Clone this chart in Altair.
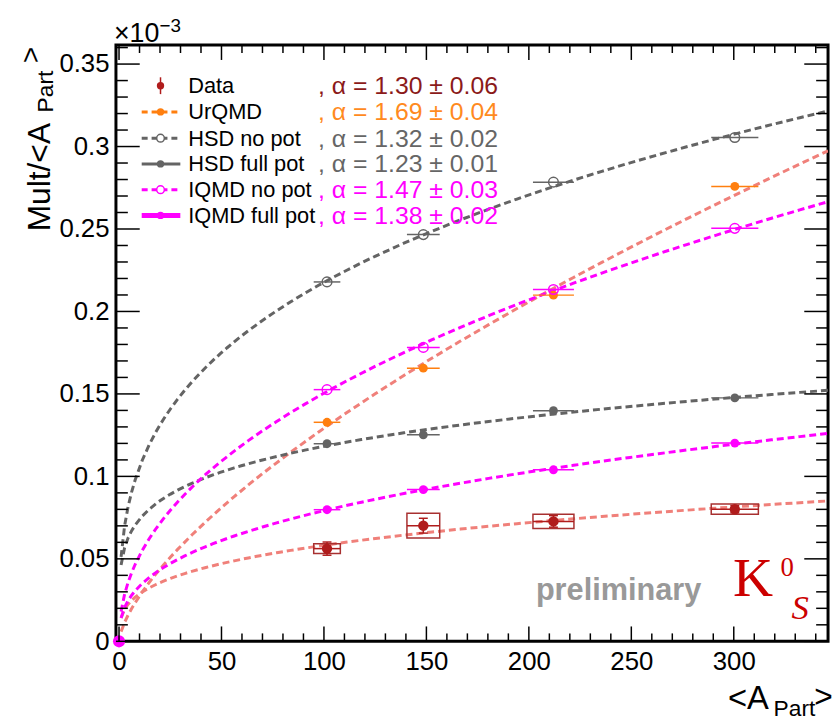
import altair as alt
import pandas as pd

# ---------------- data ----------------
A_PART = [101.5, 148.5, 212.0, 300.5]
A_ERR = [6.5, 8.0, 10.0, 11.5]

DATA_Y = [0.0562, 0.0701, 0.0727, 0.0801]
DATA_STAT = [0.0040, 0.0045, 0.0035, 0.0022]
DATA_SYS = [0.0030, 0.0075, 0.0043, 0.0031]

URQMD_Y = [0.1328, 0.1656, 0.2099, 0.2758]
HSD_NOPOT_Y = [0.2179, 0.2466, 0.2784, 0.3055]
HSD_FULL_Y = [0.1198, 0.1252, 0.1398, 0.1476]
IQMD_NOPOT_Y = [0.1526, 0.1782, 0.2133, 0.2504]
IQMD_FULL_Y = [0.0798, 0.0920, 0.1040, 0.1202]

ORIGIN_X = [0.0]
ORIGIN_Y = [0.0]

SERIES = ["Data", "UrQMD", "HSD no pot", "HSD full pot", "IQMD no pot", "IQMD full pot"]
ALPHA = ["1.30 \u00b1 0.06", "1.69 \u00b1 0.04", "1.32 \u00b1 0.02",
         "1.23 \u00b1 0.01", "1.47 \u00b1 0.03", "1.38 \u00b1 0.02"]

X_MAJOR = [0, 50, 100, 150, 200, 250, 300]
X_MINOR = [v for v in range(10, 350, 10) if v % 50 != 0]
Y_MAJOR = [0, 0.05, 0.1, 0.15, 0.2, 0.25, 0.3, 0.35]
Y_MINOR = [round(i * 0.01, 2) for i in range(1, 37) if i % 5 != 0]

# ---------------- styles ----------------
MODEL_Y = {"UrQMD": URQMD_Y, "HSD no pot": HSD_NOPOT_Y, "HSD full pot": HSD_FULL_Y,
           "IQMD no pot": IQMD_NOPOT_Y, "IQMD full pot": IQMD_FULL_Y}
FILLED = {"UrQMD": True, "HSD no pot": False, "HSD full pot": True,
          "IQMD no pot": False, "IQMD full pot": True}
MARK_COLOR = {"Data": "#b01c1c", "UrQMD": "#ff7f0f", "HSD no pot": "#646464",
              "HSD full pot": "#646464", "IQMD no pot": "#ff00ff", "IQMD full pot": "#ff00ff"}
CURVE_COLOR = {"Data": "#f0807a", "UrQMD": "#f0807a", "HSD no pot": "#646464",
               "HSD full pot": "#646464", "IQMD no pot": "#ff00ff", "IQMD full pot": "#ff00ff"}
TEXT_COLOR = {"Data": "#8b1a1a", "UrQMD": "#ff8a1e", "HSD no pot": "#666666",
              "HSD full pot": "#666666", "IQMD no pot": "#ff00ff", "IQMD full pot": "#ff00ff"}

FONT = "Liberation Sans"
SERIF = "Liberation Serif"
W, H = 719, 602

XS = alt.Scale(domain=[-1.5, 346], nice=False, zero=False)
YS = alt.Scale(domain=[0, 0.3615], nice=False, zero=False)
XAX = alt.Axis(values=X_MAJOR, title=None, labelPadding=7)
YAX = alt.Axis(values=Y_MAJOR, title=None, labelPadding=7,
               labelExpr="format(datum.value, '~g')")


def X(f):
    return alt.X(f, type="quantitative", scale=XS, axis=XAX)


def Y(f):
    return alt.Y(f, type="quantitative", scale=YS, axis=YAX)


# ---------------- tables ----------------
rows = []
for s in SERIES[1:]:
    for x, xe, y in zip(A_PART, A_ERR, MODEL_Y[s]):
        rows.append({"series": s, "x": x, "xlo": x - xe, "xhi": x + xe, "y": y})
models = pd.DataFrame(rows)

data = pd.DataFrame({
    "series": "Data", "x": A_PART, "y": DATA_Y,
    "xlo": [a - e for a, e in zip(A_PART, A_ERR)],
    "xhi": [a + e for a, e in zip(A_PART, A_ERR)],
    "slo": [y - e for y, e in zip(DATA_Y, DATA_STAT)],
    "shi": [y + e for y, e in zip(DATA_Y, DATA_STAT)],
    "blo": [y - e for y, e in zip(DATA_Y, DATA_SYS)],
    "bhi": [y + e for y, e in zip(DATA_Y, DATA_SYS)],
})

fit_in = pd.concat([models[["series", "x", "y"]], data[["series", "x", "y"]]], ignore_index=True)
origin = pd.DataFrame({"x": ORIGIN_X, "y": ORIGIN_Y})

layers = []

# fit curves (power law fitted by the library), one layer per series
for s in SERIES:
    layers.append(
        alt.Chart(fit_in).transform_filter(alt.datum.series == s)
        .transform_regression("x", "y", method="pow", extent=[1, 346])
        .mark_line(strokeDash=[7, 4], strokeWidth=3, clip=True, color=CURVE_COLOR[s])
        .encode(x=X("x"), y=Y("y"))
    )

# model bars and markers
for s in SERIES[1:]:
    c = MARK_COLOR[s]
    sub = alt.Chart(models).transform_filter(alt.datum.series == s)
    layers.append(sub.mark_rule(strokeWidth=1.5, color=c)
                  .encode(x=X("xlo"), x2="xhi", y=Y("y")))
    if FILLED[s]:
        layers.append(sub.mark_circle(size=80, opacity=1, color=c)
                      .encode(x=X("x"), y=Y("y")))
    else:
        layers.append(sub.mark_point(shape="circle", filled=False, size=95, strokeWidth=1.5,
                                     opacity=1, color=c)
                      .encode(x=X("x"), y=Y("y")))

# data: systematic boxes, error bars, markers
DR = MARK_COLOR["Data"]
layers.append(
    alt.Chart(data).mark_rect(filled=False, stroke="#a83030", strokeWidth=1.5)
    .encode(x=X("xlo"), x2="xhi", y=Y("blo"), y2="bhi")
)
layers.append(
    alt.Chart(data).mark_rule(strokeWidth=1.5, color=DR)
    .encode(x=X("xlo"), x2="xhi", y=Y("y"))
)
layers.append(
    alt.Chart(data).mark_rule(strokeWidth=1.5, color=DR)
    .encode(x=X("x"), y=Y("slo"), y2="shi")
)
for f in ["slo", "shi"]:
    layers.append(
        alt.Chart(data).mark_rule(strokeWidth=1.5, color=DR, xOffset=-4.5, x2Offset=4.5)
        .encode(x=X("x"), x2="x", y=Y(f))
    )
layers.append(
    alt.Chart(data).mark_circle(size=110, opacity=1, color=DR)
    .encode(x=X("x"), y=Y("y"))
)

# origin marker
layers.append(
    alt.Chart(origin).mark_circle(size=150, opacity=1, color="#ff00ff")
    .encode(x=X("x"), y=Y("y"))
)

# ---------------- frame ticks (ROOT style, inside) ----------------
def xticks(vals, L):
    df = pd.DataFrame({"v": vals})
    return [
        alt.Chart(df).mark_rule(strokeWidth=1.5, color="black")
        .encode(x=X("v"), y=alt.value(H), y2=alt.value(H - L)),
        alt.Chart(df).mark_rule(strokeWidth=1.5, color="black")
        .encode(x=X("v"), y=alt.value(0), y2=alt.value(L)),
    ]


def yticks(vals, L):
    df = pd.DataFrame({"v": vals})
    return [
        alt.Chart(df).mark_rule(strokeWidth=1.5, color="black")
        .encode(y=Y("v"), x=alt.value(0), x2=alt.value(L)),
        alt.Chart(df).mark_rule(strokeWidth=1.5, color="black")
        .encode(y=Y("v"), x=alt.value(W - L), x2=alt.value(W)),
    ]


layers += xticks(X_MAJOR, 15) + xticks(X_MINOR, 8)
layers += yticks(Y_MAJOR, 24) + yticks(Y_MINOR, 12)

# ---------------- legend and annotations ----------------
ONE = pd.DataFrame({"k": [0]})


def txt(s, x, y, size, color="black", font=FONT, **kw):
    return alt.Chart(ONE).mark_text(text=s, fontSize=size, color=color, font=font,
                                    align="left", baseline="alphabetic", **kw) \
        .encode(x=alt.value(x), y=alt.value(y))


ROWS = [41, 67.5, 94, 120, 146, 172]
LX0, LX1, LXM, LXT, LXA = 26, 65, 45, 73, 204

for i, s in enumerate(SERIES):
    r = ROWS[i]
    mc = MARK_COLOR[s]
    if s == "Data":
        layers.append(alt.Chart(ONE).mark_rule(strokeWidth=1.5, color=mc)
                      .encode(x=alt.value(LXM), y=alt.value(r - 8.5), y2=alt.value(r + 8.5)))
        layers.append(alt.Chart(ONE).mark_circle(size=55, opacity=1, color=mc)
                      .encode(x=alt.value(LXM), y=alt.value(r)))
    else:
        dashed = s in ("UrQMD", "HSD no pot", "IQMD no pot")
        sw = 5 if s == "IQMD full pot" else 3
        kw = {"strokeDash": [6, 4]} if dashed else {}
        layers.append(alt.Chart(ONE).mark_rule(strokeWidth=sw, color=mc, **kw)
                      .encode(x=alt.value(LX0), x2=alt.value(LX1), y=alt.value(r)))
        if FILLED[s]:
            layers.append(alt.Chart(ONE).mark_circle(size=55, opacity=1, color=mc)
                          .encode(x=alt.value(LXM), y=alt.value(r)))
        else:
            layers.append(alt.Chart(ONE).mark_point(shape="circle", filled=True, fill="white",
                                                    stroke=mc, size=60, strokeWidth=1.5, opacity=1)
                          .encode(x=alt.value(LXM), y=alt.value(r)))
    layers.append(txt(s, LXT, r + 7.5, 22))
    layers.append(txt(", \u03b1 = " + ALPHA[i], LXA, r + 8.5, 25, TEXT_COLOR[s]))

# exponent label
layers.append(txt("\u00d710", -2, -3, 27))
layers.append(txt("\u22123", 44, -13, 19))

# y title (rotated)
layers.append(txt("Mult/<A", -67, 188, 32, angle=270))
layers.append(txt("Part", -64, 68, 23, angle=270))
layers.append(txt(">", -77, 18, 28, angle=270))

# x title
layers.append(txt("<A", 618, 670, 33))
layers.append(txt("Part", 664, 677, 23))
layers.append(txt(">", 705, 668, 32))

# preliminary and particle label
layers.append(txt("preliminary", 424, 560, 31, "#999999", fontWeight="bold"))
layers.append(txt("K", 623, 556, 56, "#cc0000", font=SERIF))
layers.append(txt("0", 671, 536, 27, "#cc0000", font=SERIF))
layers.append(txt("S", 682, 579, 35, "#cc0000", font=SERIF, fontStyle="italic"))

chart = alt.layer(*layers).properties(
    width=W, height=H,
    autosize=alt.AutoSizeParams(type="none"),
    padding={"left": 109, "top": 34, "right": 4, "bottom": 77},
).configure_view(
    stroke="black", strokeWidth=3
).configure_axis(
    labelFont=FONT, labelFontSize=26, labelColor="black",
    ticks=False, tickSize=0, domain=False, grid=False,
)

chart.save("out.html", embed_options={"renderer": "svg", "actions": False})
